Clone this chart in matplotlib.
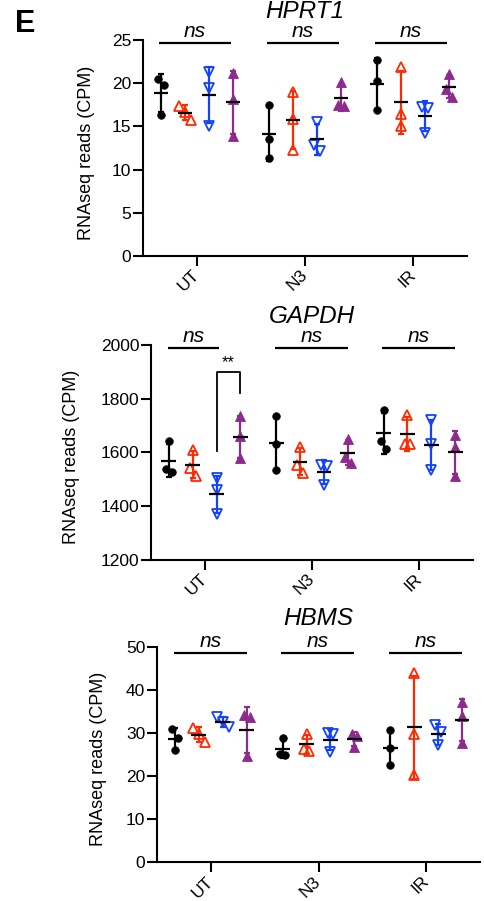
import matplotlib
matplotlib.use("Agg")
import matplotlib.pyplot as plt
import numpy as np

plt.rcParams['font.family'] = ['Liberation Sans', 'DejaVu Sans']

# ---------------- data ----------------
GROUPS = ['UT', 'N3', 'IR']
YLABEL = 'RNAseq reads (CPM)'

# each list: replicates for UT, N3, IR
HPRT1_BLACK = [[20.5, 19.8, 16.3], [17.5, 13.5, 11.4], [22.7, 20.3, 16.85]]
HPRT1_RED = [[17.4, 16.7, 15.7], [19.0, 15.8, 12.3], [21.9, 16.4, 15.0]]
HPRT1_BLUE = [[21.3, 19.5, 15.1], [15.5, 12.8, 12.2], [17.3, 17.1, 14.2]]
HPRT1_PURPLE = [[21.2, 18.2, 13.9], [20.1, 17.5, 17.4], [21.1, 19.35, 18.4]]

GAPDH_BLACK = [[1641, 1538, 1529], [1734, 1632, 1536], [1759, 1641, 1614]]
GAPDH_RED = [[1610, 1542, 1511], [1622, 1554, 1523], [1740, 1632, 1632]]
GAPDH_BLUE = [[1505, 1460, 1370], [1555, 1550, 1478], [1720, 1630, 1535]]
GAPDH_PURPLE = [[1735, 1660, 1580], [1650, 1585, 1560], [1666, 1622, 1513]]

HBMS_BLACK = [[30.85, 28.9, 25.95], [28.9, 25.2, 25.0], [30.6, 26.6, 22.5]]
HBMS_RED = [[31.2, 29.85, 27.8], [29.8, 26.3, 25.9], [43.8, 29.85, 20.15]]
HBMS_BLUE = [[33.8, 32.6, 31.4], [30.0, 29.7, 25.6], [31.8, 30.2, 27.1]]
HBMS_PURPLE = [[34.1, 33.6, 24.6], [29.85, 29.2, 26.7], [37.2, 33.9, 27.7]]

HPRT1_TICKS = [0, 5, 10, 15, 20, 25]
GAPDH_TICKS = [1200, 1400, 1600, 1800, 2000]
HBMS_TICKS = [0, 10, 20, 30, 40, 50]

NS_LABEL = 'ns'
SIG_LABEL = '**'
# GAPDH UT bracket (blue vs purple): left leg bottom, top, right leg bottom
GAPDH_BRACKET = [1604, 1900, 1823]

# ---------------- style ----------------
W, H = 484, 901
BLACK = '#000000'
RED = '#FF2A00'
BLUE = '#1242FF'
PURPLE = '#8C2A8E'
STYLES = [  # color, marker, filled
    (BLACK, 'o', True),
    (RED, '^', False),
    (BLUE, 'v', False),
    (PURPLE, '^', True),
]
GROUP_POS = np.array([0.0, 4.5, 9.0])
SER_OFF = np.array([-1.5, -0.5, 0.5, 1.5])
XLIM = (-2.25, 11.25)

fig = plt.figure(figsize=(W / 100, H / 100), dpi=100)


def px_axes(l, t, r, b):
    return fig.add_axes([l / W, 1 - b / H, (r - l) / W, (b - t) / H])


def jitter(ax, vals, xc):
    # spread points that would overlap vertically (in pixels)
    py = ax.transData.transform(np.c_[np.full(len(vals), xc), vals])[:, 1]
    order = np.argsort(-py)  # top first
    offs = np.zeros(len(vals))
    clusters = [[order[0]]]
    for i in order[1:]:
        if abs(py[clusters[-1][-1]] - py[i]) < 9.0:
            clusters[-1].append(i)
        else:
            clusters.append([i])
    step = 0.24
    for c in clusters:
        n = len(c)
        for k, idx in enumerate(c):
            offs[idx] = (k - (n - 1) / 2) * step
    return offs


def panel(box, title, series, ticks, ylab_x, ns_y, ns_spans, ylab_y=0.478):
    ax = px_axes(*box)
    ax.set_xlim(*XLIM)
    ax.set_ylim(ticks[0], ticks[-1])
    for s in ['top', 'right']:
        ax.spines[s].set_visible(False)
    for s in ['left', 'bottom']:
        ax.spines[s].set_linewidth(1.5)
    ax.set_yticks(ticks)
    ax.set_xticks(GROUP_POS)
    ax.set_xticklabels(GROUPS, rotation=45, ha='right', va='center',
                       rotation_mode='anchor')
    ax.tick_params(axis='both', length=7, width=1.5, labelsize=12.5,
                   direction='out')
    ax.tick_params(axis='y', pad=1.5)
    ax.tick_params(axis='x', pad=5)
    ax.set_ylabel(YLABEL, fontsize=13)
    ax.yaxis.set_label_coords(ylab_x, ylab_y)
    ax.yaxis.label.set_va('bottom')

    for si, data in enumerate(series):
        color, marker, filled = STYLES[si]
        for gi, vals in enumerate(data):
            vals = np.asarray(vals, dtype=float)
            xc = GROUP_POS[gi] + SER_OFF[si]
            m = vals.mean()
            sd = vals.std(ddof=1)
            ax.errorbar([xc], [m], yerr=[sd], fmt='none', ecolor=color,
                        elinewidth=1.6, capsize=2.2, capthick=1.6, zorder=2)
            offs = jitter(ax, vals, xc)
            ms = 5.4 if marker == 'o' else 6.8
            ax.plot(xc + offs, vals, linestyle='none', marker=marker,
                    markersize=ms, markerfacecolor=color if filled else 'none',
                    markeredgecolor=color, markeredgewidth=1.3 if not filled else 0.6,
                    zorder=3, clip_on=False)
            ax.plot([xc - 0.31, xc + 0.31], [m, m], color='black', lw=1.6,
                    zorder=4, solid_capstyle='butt')

    tr = ax.get_xaxis_transform()
    for gi, (x0, x1) in enumerate(ns_spans):
        xa, xb = GROUP_POS[gi] + x0, GROUP_POS[gi] + x1
        ax.plot([xa, xb], [ns_y, ns_y], color='black', lw=1.6, transform=tr,
                clip_on=False, solid_capstyle='butt')
        ax.annotate(NS_LABEL, xy=((xa + xb) / 2, ns_y), xycoords=tr,
                    xytext=(0, 4.2), textcoords='offset points', ha='center',
                    va='baseline', fontsize=15, style='italic',
                    annotation_clip=False)
    ax.annotate(title, xy=(0.5, 1), xycoords='axes fraction',
                xytext=(0, 15.8), textcoords='offset points', ha='center',
                va='baseline', fontsize=17.5, style='italic',
                annotation_clip=False)
    return ax


FULL = [(-1.6, 1.4)] * 3
ax1 = panel((143, 40, 467, 256), 'HPRT1',
            [HPRT1_BLACK, HPRT1_RED, HPRT1_BLUE, HPRT1_PURPLE],
            HPRT1_TICKS, -0.148, 0.985, FULL)
ax2 = panel((151, 345, 473, 560), 'GAPDH',
            [GAPDH_BLACK, GAPDH_RED, GAPDH_BLUE, GAPDH_PURPLE],
            GAPDH_TICKS, -0.22, 0.985,
            [(-1.55, 0.62), (-1.55, 1.5), (-1.55, 1.5)])
ax3 = panel((157, 646.7, 480, 862.3), 'HBMS',
            [HBMS_BLACK, HBMS_RED, HBMS_BLUE, HBMS_PURPLE],
            HBMS_TICKS, -0.155, 0.972, [(-1.55, 1.5)] * 3)

# significance bracket in GAPDH (UT: blue vs purple)
xl = GROUP_POS[0] + SER_OFF[2]
xr = GROUP_POS[0] + SER_OFF[3]
yl, yt, yr = GAPDH_BRACKET
ax2.plot([xl, xl, xr, xr], [yl, yt, yt, yr], color='black', lw=1.3,
         clip_on=False)
ax2.annotate(SIG_LABEL, xy=((xl + xr) / 2, yt), xytext=(0, 1.5),
             textcoords='offset points', ha='center', va='bottom',
             fontsize=12, annotation_clip=False)

fig.text(15 / W, 1 - 32 / H, 'E', fontsize=22, fontweight='bold',
         va='baseline', ha='left')

fig.savefig('out.png', dpi=100)
